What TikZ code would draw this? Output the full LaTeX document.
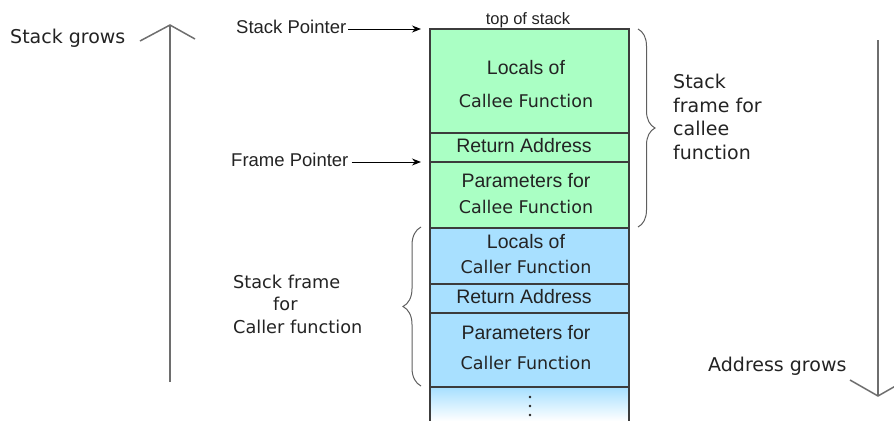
\documentclass[tikz,border=0pt]{standalone}
\usepackage{fontspec}
\usetikzlibrary{decorations.pathreplacing,arrows.meta}
\newfontfamily\dv{DejaVu Sans}
\newfontfamily\lib{Liberation Sans}
\definecolor{greenC}{RGB}{170,255,196}
\definecolor{blueC}{RGB}{168,224,255}
\definecolor{boxline}{RGB}{60,60,60}
\definecolor{txt}{RGB}{35,35,35}
\definecolor{biggray}{RGB}{110,110,110}
\definecolor{bracegray}{RGB}{95,95,95}
\begin{document}
\begin{tikzpicture}[x=1pt,y=-1pt,
  cell/.style={draw=boxline,line width=1.3pt,minimum width=199pt,anchor=north west,inner sep=0pt,outer sep=0pt},
  lbl/.style={inner sep=0pt,anchor=base,text=txt},
  boxt/.style={lbl,font=\lib\fontsize{19.5}{22}\selectfont},
  boxf/.style={lbl,font=\dv\fontsize{17.5}{20}\selectfont},
  side/.style={lbl,font=\dv\fontsize{19}{23.5}\selectfont},
  ptrl/.style={lbl,anchor=base west,font=\lib\fontsize{18.5}{22}\selectfont},
  ptr/.style={-{Stealth[length=9pt,width=7pt]},line width=1pt,black},
  bigarrow/.style={line width=1.5pt,biggray},
  bracestyle/.style={decorate,decoration={brace,amplitude=17pt},line width=1pt,bracegray}]
\useasboundingbox (0,0) rectangle (894,421);

% stack cells
\node[cell,fill=greenC,minimum height=104pt] (cl) at (430,29) {};
\node[cell,fill=greenC,minimum height=29pt] (cr) at (430,133) {};
\node[cell,fill=greenC,minimum height=66pt] (cp) at (430,162) {};
\node[cell,fill=blueC,minimum height=56pt] (kl) at (430,228) {};
\node[cell,fill=blueC,minimum height=29pt] (kr) at (430,284) {};
\node[cell,fill=blueC,minimum height=74pt] (kp) at (430,313) {};
\shade[top color=blueC,bottom color=white] ([yshift=-0.7pt]kp.south west) rectangle (629,421);
\draw[boxline,line width=1.3pt] (kp.south west) -- (430,421);
\draw[boxline,line width=1.3pt] (kp.south east) -- (629,421);
\draw[boxline,line width=1.3pt] (kp.south west) -- (kp.south east);
\foreach \yy in {397,406,415} \fill[txt] (530,\yy) circle (1.4pt);

% cell texts
\node[lbl,font=\lib\fontsize{16.5}{20}\selectfont] (tos) at (528,24) {top of stack};
\node[boxt] (t1) at (526,74) {Locals of};
\node[boxf] (t2) at (526,107) {Callee Function};
\node[boxt] (t3) at (524,152) {Return Address};
\node[boxt] (t4) at (526,187) {Parameters for};
\node[boxf] (t5) at (526,213) {Callee Function};
\node[boxt] (u1) at (526,248) {Locals of};
\node[boxf] (u2) at (526,273) {Caller Function};
\node[boxt] (u3) at (524,303) {Return Address};
\node[boxt] (u4) at (526,339) {Parameters for};
\node[boxf] (u5) at (526,369) {Caller Function};

% pointers
\node[ptrl] (spl) at (236,33) {Stack Pointer};
\coordinate (spt) at (421,29);
\draw[ptr] ([xshift=2pt]spl.east |- spt) -- (spt);
\node[ptrl] (fpl) at (231,166) {Frame Pointer};
\coordinate (fpt) at (421,162);
\draw[ptr] ([xshift=3pt]fpl.east |- fpt) -- (fpt);

% big arrows
\node[side,anchor=base west] (sg) at (10,43) {Stack grows};
\coordinate (sgb) at (170,382);
\coordinate (sgt) at (170,25);
\draw[bigarrow] (sgb) -- (sgt);
\draw[bigarrow,line join=miter] (140,41) -- (sgt) -- (195,39);
\node[side,anchor=base west] (ag) at (708,371) {Address grows};
\coordinate (agt) at (878,40);
\coordinate (agb) at (878,396);
\draw[bigarrow] (agt) -- (agb);
\draw[bigarrow,line join=miter] (850,380) -- (agb) -- (906,380);

% braces
\draw[bracestyle] (638,29) -- (638,227);
\node[side,anchor=base west,align=left] (callee) at (673,159) {Stack\\frame for\\callee\\function};
\draw[bracestyle,decoration={amplitude=18pt}] (421,386) -- (421,227);
\node[lbl,anchor=base west,align=left,font=\dv\fontsize{17.7}{22.5}\selectfont] (caller) at (233,333) {Stack frame\\\hspace*{40pt}for\\Caller function};
\end{tikzpicture}
\end{document}
